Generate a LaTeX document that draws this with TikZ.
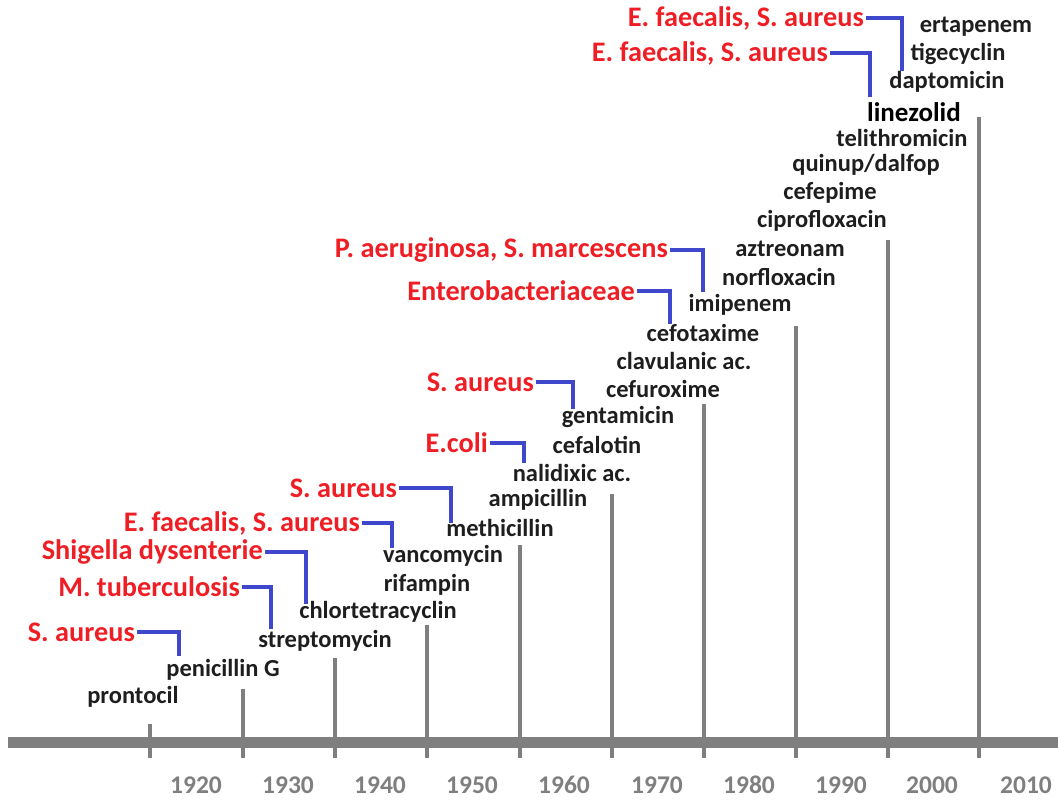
\documentclass[tikz,border=0pt]{standalone}
\usepackage{fontspec}
\setmainfont{Carlito}
\usetikzlibrary{positioning}
\definecolor{bugred}{RGB}{238,30,36}
\definecolor{linkblue}{RGB}{63,72,204}
\definecolor{axisgray}{RGB}{127,127,127}
\definecolor{drugtext}{RGB}{30,30,30}
\tikzset{>=latex}

\begin{document}
\begin{tikzpicture}[x=1pt,y=-1pt,
	drug/.style={inner sep=0pt, text=drugtext, font=\fontsize{24.5}{28}\selectfont\bfseries},
	bug/.style={inner sep=2pt, anchor=east, text=bugred, font=\fontsize{28.3}{32}\selectfont\bfseries},
	yr/.style={inner sep=0pt, anchor=base, text=axisgray, font=\fontsize{25.5}{29}\selectfont\bfseries},
	bar/.style={draw=axisgray, line width=4pt},
	link/.style={draw=linkblue, line width=4.5pt}]
		\useasboundingbox (0,0) rectangle (1058,802);
		% time axis
		\coordinate (a0) at (8,742);
		\coordinate (a1) at (1058,742);
		\draw[axisgray, line width=11pt] (a0) -- (a1);
		\draw[bar] (150,724) -- (150,758);
		\draw[bar] (243,689) -- (243,758);
		\draw[bar] (335,658) -- (335,758);
		\draw[bar] (427,625) -- (427,758);
		\draw[bar] (520,545) -- (520,758);
		\draw[bar] (612,494) -- (612,758);
		\draw[bar] (704,404) -- (704,758);
		\draw[bar] (796,326) -- (796,758);
		\draw[bar] (888,240) -- (888,758);
		\draw[bar] (979,117) -- (979,758);
		\node[yr] (y0) at (196,793) {1920};
		\node[yr] (y1) at (288,793) {1930};
		\node[yr] (y2) at (380,793) {1940};
		\node[yr] (y3) at (472,793) {1950};
		\node[yr] (y4) at (564,793) {1960};
		\node[yr] (y5) at (657,793) {1970};
		\node[yr] (y6) at (749,793) {1980};
		\node[yr] (y7) at (841,793) {1990};
		\node[yr] (y8) at (932,793) {2000};
		\node[yr] (y9) at (1026,793) {2010};
		% antibiotics
		\node[drug] (d0) at (133,697) {prontocil};
		\node[drug] (d1) at (223,670) {penicillin G};
		\node[drug] (d2) at (325,641) {streptomycin};
		\node[drug] (d3) at (378,612) {chlortetracyclin};
		\node[drug] (d4) at (427,585) {rifampin};
		\node[drug] (d5) at (443,556) {vancomycin};
		\node[drug] (d6) at (500,528) {methicillin};
		\node[drug] (d7) at (538,500) {ampicillin};
		\node[drug] (d8) at (572,473) {nalidixic ac.};
		\node[drug] (d9) at (597,445) {cefalotin};
		\node[drug] (d10) at (618,417) {gentamicin};
		\node[drug] (d11) at (663,389) {cefuroxime};
		\node[drug] (d12) at (684,361) {clavulanic ac.};
		\node[drug] (d13) at (703,333) {cefotaxime};
		\node[drug] (d14) at (740,305) {imipenem};
		\node[drug] (d15) at (779,277) {norfloxacin};
		\node[drug] (d16) at (790,249) {aztreonam};
		\node[drug] (d17) at (822,221) {ciprofloxacin};
		\node[drug] (d18) at (830,193) {cefepime};
		\node[drug] (d19) at (866,165) {quinup/dalfop};
		\node[drug] (d20) at (902,138) {telithromicin};
		\node[drug, text=black, font=\fontsize{27}{31}\selectfont\bfseries] (d21) at (914,112) {linezolid};
		\node[drug] (d22) at (947,82) {daptomicin};
		\node[drug] (d23) at (958,54) {tigecyclin};
		\node[drug] (d24) at (976,27) {ertapenem};
		% resistant bacteria
		\node[bug] (b1) at (137,632) {S. aureus};
		\node[bug] (b2) at (242,587) {M. tuberculosis};
		\node[bug] (b3) at (265,552) {Shigella dysenterie};
		\node[bug] (b4) at (362,523) {E. faecalis, S. aureus};
		\node[bug] (b5) at (399,488) {S. aureus};
		\node[bug] (b6) at (490,443) {E.coli};
		\node[bug] (b7) at (536,382) {S. aureus};
		\node[bug] (b8) at (637,291) {Enterobacteriaceae};
		\node[bug] (b9) at (670,250) {P. aeruginosa, S. marcescens};
		\node[bug] (b10) at (830,53) {E. faecalis, S. aureus};
		\node[bug] (b11) at (866,18) {E. faecalis, S. aureus};
		\coordinate (c1) at (179,656);
		\coordinate (c2) at (271,629);
		\coordinate (c3) at (306,604);
		\coordinate (c4) at (392,548);
		\coordinate (c5) at (451,523);
		\coordinate (c6) at (524,463);
		\coordinate (c7) at (573,409);
		\coordinate (c8) at (670,324);
		\coordinate (c9) at (703,292);
		\coordinate (c10) at (870,97);
		\coordinate (c11) at (902,71);
		\path[link]
			(b1.east) -| (c1)
			(b2.east) -| (c2)
			(b3.east) -| (c3)
			(b4.east) -| (c4)
			(b5.east) -| (c5)
			(b6.east) -| (c6)
			(b7.east) -| (c7)
			(b8.east) -| (c8)
			(b9.east) -| (c9)
			(b10.east) -| (c10)
			(b11.east) -| (c11);
	\end{tikzpicture}
\end{document}
